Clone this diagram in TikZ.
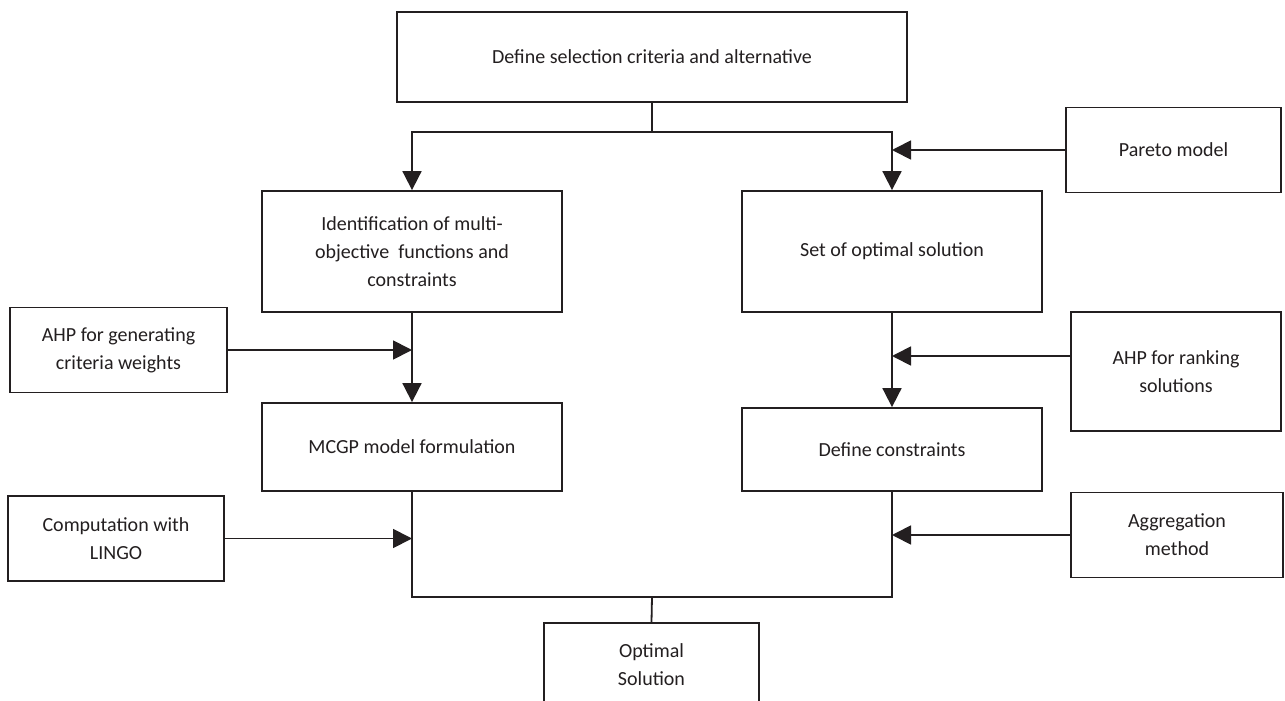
\documentclass[tikz,border=0pt]{standalone}
\usepackage{fontspec}
\setmainfont{Carlito}
\usetikzlibrary{arrows.meta}
\definecolor{ink}{HTML}{231F20}
\tikzset{
  box/.style={draw=ink, line width=1.8pt, rectangle, inner sep=0pt, align=center,
    text=ink, font=\fontsize{20}{28}\selectfont},
  conn/.style={draw=ink, line width=1.8pt},
  arr/.style={conn, -{Triangle[length=19pt,width=19pt]}}
}
\begin{document}
\begin{tikzpicture}[x=1pt,y=-1pt]
\clip (0,0) rectangle (1285,701);
\fill[white] (0,0) rectangle (1285,701);
% nodes
\node[box, minimum width=510pt, minimum height=90pt] (top) at (652,57) {Define selection criteria and alternative};
\node[box, minimum width=300pt, minimum height=121pt] (ident) at (412,251.5) {Identification of multi-\\objective\ \ functions and\\constraints};
\node[box, minimum width=300pt, minimum height=121pt] (set) at (892,251.5) {Set of optimal solution};
\node[box, minimum width=215pt, minimum height=85pt] (pareto) at (1173.5,150) {Pareto model};
\node[box, minimum width=217pt, minimum height=85pt] (ahpgen) at (118.5,350) {AHP for generating\\criteria weights};
\node[box, minimum width=300pt, minimum height=88pt] (mcgp) at (412,447) {MCGP model formulation};
\node[box, minimum width=210pt, minimum height=119pt] (ahprank) at (1176,371.5) {AHP for ranking\\solutions};
\node[box, minimum width=300pt, minimum height=83pt] (defc) at (892,449.5) {Define constraints};
\node[box, minimum width=216pt, minimum height=85pt] (comp) at (116,538.5) {Computation with\\LINGO};
\node[box, minimum width=212pt, minimum height=85pt] (aggr) at (1177,535) {Aggregation\\method};
\node[box, minimum width=215pt, minimum height=84pt] (opt) at (651.5,665) {Optimal\\Solution};
% connectors
\coordinate (split) at (652,132);
\draw[conn] (top.south) -- (split);
\draw[arr] (split) -| (ident.north);
\draw[arr] (split) -| (set.north);
\draw[arr] (pareto.west) -- (pareto.west -| set.north);
\draw[arr] (ident.south) -- (mcgp.north);
\draw[arr] (ahpgen.east) -- (ahpgen.east -| ident.south);
\draw[arr] (set.south) -- (defc.north);
\draw[arr] ([yshift=15.5pt]ahprank.west) -- ([yshift=15.5pt]ahprank.west -| set.south);
\coordinate (join) at (652,597);
\draw[conn] (mcgp.south) |- (join) -| (defc.south);
\draw[conn] (join) -- (opt.north);
\draw[arr] (comp.east) -- (comp.east -| mcgp.south);
\draw[arr] (aggr.west) -- (aggr.west -| defc.south);
\end{tikzpicture}
\end{document}
